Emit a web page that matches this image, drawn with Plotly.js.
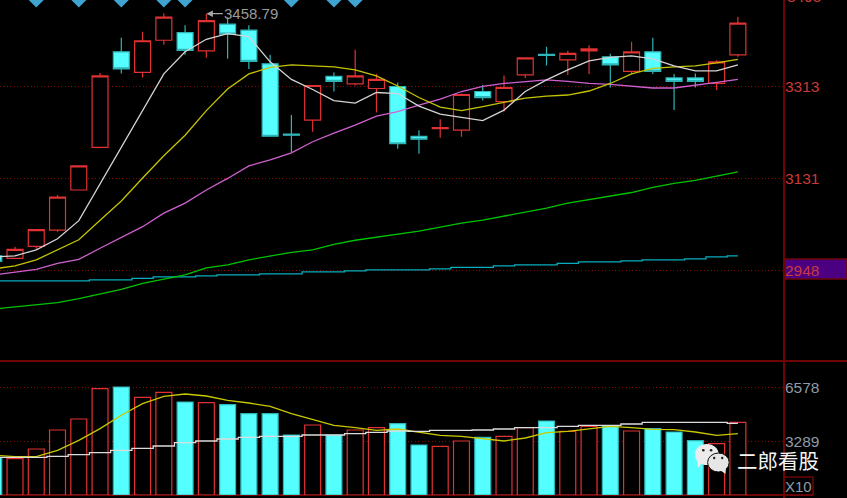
<!DOCTYPE html>
<html><head><meta charset="utf-8">
<script src="https://cdn.plot.ly/plotly-3.0.1.min.js"></script>
<style>html,body{margin:0;padding:0;background:#000;overflow:hidden}#c{width:847px;height:498px}</style>
</head><body><div id="c"></div>
<script>
const open_ =[2977,2972,2996,3028,3108,3193,3383,3342,3406,3421,3385,3438,3426,3359,3219,3247,3334,3319,3310,3314,3215,3230,3227,3304,3284,3337,3378,3367,3385,3373,3344,3383,3331,3331,3320,3377];
const high_ =[2977,2995,3029,3098,3156,3341,3411,3423,3459,3436,3458.79,3452,3436,3377,3257,3316,3342,3387,3339,3322,3227,3249,3300,3317,3336,3371,3393,3385,3396,3379,3403,3411,3339,3340,3366,3453];
const low_  =[2966,2972,2991,3025,3108,3193,3340,3332,3397,3377,3371,3369,3349,3215,3183,3224,3304,3316,3262,3190,3180,3212,3214,3286,3264,3331,3356,3337,3339,3312,3339,3339,3267,3312,3307,3373];
const close_=[2966,2990,3029,3094,3156,3335,3349,3405,3452,3386,3445,3418,3364,3215,3217,3316,3324,3335,3328,3200,3209,3232,3298,3292,3312,3371,3376,3380,3389,3357,3383,3344,3324,3324,3363,3440];
const ma5  =[2975,2977,2989,3011,3047,3120,3194,3267,3339,3383,3408,3419,3413,3363,3328,3308,3286,3281,3302,3300,3275,3259,3253,3246,3267,3304,3327,3347,3365,3372,3375,3369,3355,3345,3345,3357];
const ma10 =[2951,2957,2969,2989,3009,3048,3086,3132,3176,3217,3266,3309,3339,3352,3357,3355,3353,3347,3335,3315,3292,3273,3266,3274,3283,3291,3295,3297,3305,3320,3339,3350,3353,3355,3361,3368];
const ma20 =[2939,2944,2950,2962,2970,2992,3014,3035,3062,3082,3108,3131,3156,3168,3182,3204,3221,3237,3255,3264,3277,3289,3304,3314,3320,3324,3327,3324,3320,3318,3315,3311,3311,3316,3322,3328];
const ma60 =[2871,2875,2879,2884,2892,2901,2910,2922,2930,2939,2953,2959,2969,2977,2984,2989,3000,3008,3014,3021,3026,3034,3042,3048,3056,3064,3072,3082,3089,3096,3103,3113,3121,3127,3136,3144];
const ma120=[2927,2927,2927,2927,2927,2929,2929,2932,2935,2935,2937,2939,2939,2941,2941,2945,2945,2947,2949,2949,2949,2951,2954,2954,2957,2959,2959,2962,2965,2965,2967,2969,2969,2971,2975,2977];
const volume=[2291,2230,2818,3981,4655,6517,6615,5984,6290,5696,5660,5537,4986,4986,3675,4288,3675,3981,4128,4373,3063,2983,3308,3534,3595,4128,4533,3902,4208,4226,3920,4067,3859,3332,3148,4453];
const volMa5=[2432,2352,2352,2738,3350,4067,4882,5598,6045,6186,6064,5800,5635,5433,4986,4637,4269,4128,3963,4043,3840,3657,3595,3455,3308,3491,3822,3902,4067,4208,4128,4024,4006,3859,3657,3761];
const volMa10=[2309,2309,2309,2370,2475,2597,2738,2860,3001,3210,3308,3430,3534,3595,3595,3675,3675,3761,3840,3920,3902,3963,3963,3981,4043,4128,4128,4208,4269,4269,4349,4453,4453,4453,4453,4392];
const signalIdx=[2,4,6,8,9,14,16,17];
const signalLevel=[3488,3488,3488,3488,3488,3488,3488,3488];
const priceTicks=[2948,3131,3313];
const volTicks=[3289,6578];
const idx=open_.map((_,i)=>i);

const W=847,H=498,R=63,B=3;
const PW=W-R,PH=H-B;
const split=134/PH;
const px=x=>x/PW, py=y=>1-y/PH;
const RED='#e03232',CY='#55ffff',CYL='#2fb4b8',AXIS='#6e0404',GRID='#8a0a0a',TXT='#8e9ca8',TR='#c93a3a';

function circle(x0,y0,x1,y1,fill,line){
  return {type:'circle',xref:'paper',yref:'paper',x0:px(x0),x1:px(x1),y0:py(y0),y1:py(y1),
    fillcolor:fill,line:{color:line||fill,width:line?1:0},layer:'above'};
}
function poly(pts,fill){
  const d=pts.map((p,i)=>(i?'L':'M')+px(p[0])+','+py(p[1])).join(' ')+' Z';
  return {type:'path',xref:'paper',yref:'paper',path:d,fillcolor:fill,line:{width:0},layer:'above'};
}
function lineShape(x0,y0,x1,y1,color,w){
  return {type:'line',xref:'paper',yref:'paper',x0:px(x0),x1:px(x1),y0:py(y0),y1:py(y1),line:{color,width:w},layer:'below'};
}

const data=[
 {type:'candlestick',x:idx,open:open_,high:high_,low:low_,close:close_,xaxis:'x',yaxis:'y',whiskerwidth:0,
  increasing:{line:{color:RED,width:1.2},fillcolor:'#000'},
  decreasing:{line:{color:CYL,width:1.2},fillcolor:CY},hoverinfo:'skip'},
 {type:'scatter',mode:'lines',x:idx,y:ma120,line:{color:'#06aebe',width:1.3,shape:'hvh'},hoverinfo:'skip'},
 {type:'scatter',mode:'lines',x:idx,y:ma60,line:{color:'#00c400',width:1.3},hoverinfo:'skip'},
 {type:'scatter',mode:'lines',x:idx,y:ma20,line:{color:'#d060d0',width:1.3},hoverinfo:'skip'},
 {type:'scatter',mode:'lines',x:idx,y:ma10,line:{color:'#c4c400',width:1.3},hoverinfo:'skip'},
 {type:'scatter',mode:'lines',x:idx,y:ma5,line:{color:'#d4d4d4',width:1.3},hoverinfo:'skip'},
 {type:'scatter',mode:'markers',x:signalIdx,y:signalLevel,marker:{symbol:'diamond',size:13,color:'#3fa4cf'},hoverinfo:'skip'},
 {type:'bar',x:idx,y:volume,xaxis:'x2',yaxis:'y2',
  marker:{color:idx.map(i=>close_[i]>=open_[i]?'#000':CY),
          line:{color:idx.map(i=>close_[i]>=open_[i]?RED:CYL),width:1.2}},hoverinfo:'skip'},
 {type:'scatter',mode:'lines',x:idx,y:volMa5,xaxis:'x2',yaxis:'y2',line:{color:'#c8c800',width:1.3},hoverinfo:'skip'},
 {type:'scatter',mode:'lines',x:idx,y:volMa10,xaxis:'x2',yaxis:'y2',line:{color:'#dcdcdc',width:1.3,shape:'hvh'},hoverinfo:'skip'}
];

const xr=[0.294,37.17];
const tickFont=c=>({family:'Liberation Sans, Arial, sans-serif',size:15.5,color:c});
const layout={
 width:W,height:H,paper_bgcolor:'#000',plot_bgcolor:'#000',showlegend:false,
 margin:{l:0,r:R,t:0,b:B,pad:0},boxmode:'group',boxgap:0.25,boxgroupgap:0,bargap:0.25,dragmode:false,
 xaxis:{domain:[0,1],range:xr,type:'linear',visible:false,rangeslider:{visible:false},fixedrange:true},
 xaxis2:{domain:[0,1],range:xr,type:'linear',visible:false,anchor:'y2',fixedrange:true},
 yaxis:{domain:[split,1],range:[2767.7,3486.1],side:'right',anchor:'x',tickmode:'array',tickvals:priceTicks,ticktext:priceTicks.map(String),
   tickfont:tickFont(TR),showgrid:true,griddash:'1px,2.4px',gridcolor:GRID,gridwidth:1,zeroline:false,showline:false,ticks:'',fixedrange:true},
 yaxis2:{domain:[0,split],range:[0,8207],side:'right',anchor:'x2',tickmode:'array',tickvals:volTicks,ticktext:volTicks.map(String),
   tickfont:tickFont(TXT),showgrid:true,griddash:'1px,2.4px',gridcolor:GRID,gridwidth:1,zeroline:false,showline:false,ticks:'',fixedrange:true},
 shapes:[
  {type:'rect',xref:'paper',yref:'paper',x0:px(784),x1:px(847),y0:py(259),y1:py(279),fillcolor:'#4a0080',line:{color:AXIS,width:1.5},layer:'below'},
  lineShape(784,0,784,498,AXIS,2),
  lineShape(0,361,847,361,AXIS,2),
  lineShape(0,495,813,495,AXIS,2),
  {type:'rect',xref:'paper',yref:'paper',x0:px(784),x1:px(813),y0:py(477),y1:py(495),fillcolor:'rgba(0,0,0,0)',line:{color:AXIS,width:1.5},layer:'below'},
  circle(695,444,718.7,465,'#ececec'),
  poly([[697,460],[702,463],[698,468]],'#ececec'),
  circle(702,448.9,704.6,451.5,'#222'),
  circle(709.8,448.9,712.4,451.5,'#222'),
  circle(707.6,453,729.2,472,'#e6e6e6','#111'),
  poly([[720,470],[726,467],[725.5,474]],'#e6e6e6'),
  circle(713,456.8,715.4,459.2,'#222'),
  circle(721,456.8,723.4,459.2,'#222')
 ],
 annotations:[
  {x:10,y:3458.79,xref:'x',yref:'y',text:'3458.79',showarrow:true,ax:45,ay:0,arrowhead:2,arrowsize:1,arrowwidth:1.3,arrowcolor:'#a8a8a8',
   font:{family:'Liberation Sans, Arial, sans-serif',size:15,color:'#9a9a9a'}},
  {xref:'paper',yref:'paper',x:px(786),y:py(-3),xanchor:'left',yanchor:'middle',text:'3495',showarrow:false,font:tickFont(TR),borderpad:0},
  {xref:'paper',yref:'paper',x:px(798.5),y:py(486),xanchor:'center',yanchor:'middle',text:'X10',showarrow:false,font:{family:'Liberation Sans, Arial, sans-serif',size:15,color:TXT},borderpad:0},
  {xref:'paper',yref:'paper',x:px(778),y:py(460),xanchor:'center',yanchor:'middle',text:'二郎看股',showarrow:false,font:{family:'Noto Sans CJK SC, sans-serif',size:20.5,color:'#f4f4f4'},borderpad:0}
 ]
};
Plotly.newPlot('c',data,layout,{displayModeBar:false,staticPlot:true});
</script></body></html>
